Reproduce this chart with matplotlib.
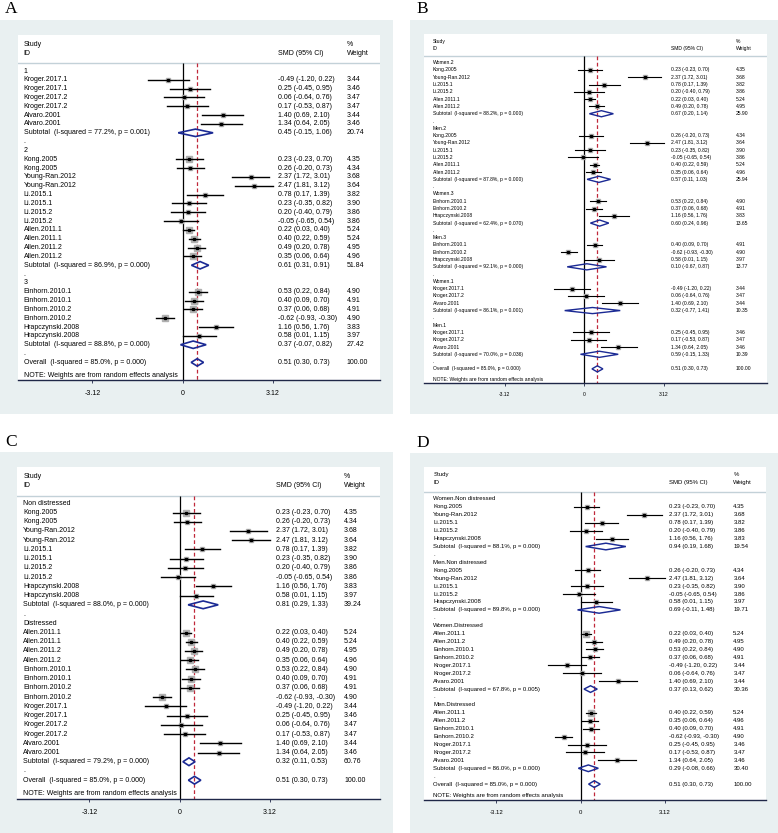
import numpy as np
import matplotlib.pyplot as plt
from matplotlib.patches import Rectangle, Polygon

plt.rcParams['font.family'] = ['Liberation Sans', 'DejaVu Sans']

W, H = 778, 833

# study-level estimates: SMD, 95% CI and random-effects weight (%)
study = ["Kroger.2017.1", "Kroger.2017.1", "Kroger.2017.2", "Kroger.2017.2",
         "Alvaro.2001", "Alvaro.2001", "Kong.2005", "Kong.2005",
         "Young-Ran.2012", "Young-Ran.2012", "Li.2015.1", "Li.2015.1",
         "Li.2015.2", "Li.2015.2", "Allen.2011.1", "Allen.2011.1",
         "Allen.2011.2", "Allen.2011.2", "Einhorn.2010.1", "Einhorn.2010.1",
         "Einhorn.2010.2", "Einhorn.2010.2", "Hrapczynski.2008", "Hrapczynski.2008"]
smd = [-0.49, 0.25, 0.06, 0.17, 1.40, 1.34, 0.23, 0.26, 2.37, 2.47, 0.78, 0.23,
       0.20, -0.05, 0.22, 0.40, 0.49, 0.35, 0.53, 0.40, 0.37, -0.62, 1.16, 0.58]
lo = [-1.20, -0.45, -0.64, -0.53, 0.69, 0.64, -0.23, -0.20, 1.72, 1.81, 0.17, -0.35,
      -0.40, -0.65, 0.03, 0.22, 0.20, 0.06, 0.22, 0.09, 0.06, -0.93, 0.56, 0.01]
hi = [0.22, 0.95, 0.76, 0.87, 2.10, 2.05, 0.70, 0.73, 3.01, 3.12, 1.39, 0.82,
      0.79, 0.54, 0.40, 0.59, 0.78, 0.64, 0.84, 0.70, 0.68, -0.30, 1.76, 1.15]
weight = [3.44, 3.46, 3.47, 3.47, 3.44, 3.46, 4.35, 4.34, 3.68, 3.64, 3.82, 3.90,
          3.86, 3.86, 5.24, 5.24, 4.95, 4.96, 4.90, 4.91, 4.91, 4.90, 3.83, 3.97]

overall_smd, overall_lo, overall_hi = 0.51, 0.30, 0.73
overall_i2, overall_p = 85.0, 0.000

# panel A: by group 1/2/3
a_groups = ["1", "2", "3"]
a_members = [[0, 1, 2, 3, 4, 5],
             [6, 7, 8, 9, 10, 11, 12, 13, 14, 15, 16, 17],
             [18, 19, 20, 21, 22, 23]]
a_sub_smd = [0.45, 0.61, 0.37]
a_sub_lo = [-0.15, 0.31, -0.07]
a_sub_hi = [1.06, 0.91, 0.82]
a_sub_wt = [20.74, 51.84, 27.42]
a_sub_i2 = [77.2, 86.9, 88.8]
a_sub_p = [0.001, 0.000, 0.000]

# panel B: sex by group
b_groups = ["Women.2", "Men.2", "Women.3", "Men.3", "Women.1", "Men.1"]
b_members = [[6, 8, 10, 12, 14, 16], [7, 9, 11, 13, 15, 17],
             [18, 20, 22], [19, 21, 23], [0, 2, 4], [1, 3, 5]]
b_sub_smd = [0.67, 0.57, 0.60, 0.10, 0.32, 0.59]
b_sub_lo = [0.20, 0.11, 0.24, -0.67, -0.77, -0.15]
b_sub_hi = [1.14, 1.03, 0.96, 0.87, 1.41, 1.33]
b_sub_wt = [25.90, 25.94, 13.65, 13.77, 10.35, 10.39]
b_sub_i2 = [88.2, 87.8, 62.4, 92.1, 86.1, 70.0]
b_sub_p = [0.000, 0.000, 0.070, 0.000, 0.001, 0.036]

# panel C: distress status
c_groups = ["Non distressed", "Distressed"]
c_members = [[6, 7, 8, 9, 10, 11, 12, 13, 22, 23],
             [14, 15, 16, 17, 18, 19, 20, 21, 0, 1, 2, 3, 4, 5]]
c_sub_smd = [0.81, 0.32]
c_sub_lo = [0.29, 0.11]
c_sub_hi = [1.33, 0.53]
c_sub_wt = [39.24, 60.76]
c_sub_i2 = [88.0, 79.2]
c_sub_p = [0.000, 0.000]

# panel D: sex by distress status
d_groups = ["Women.Non distressed", "Men.Non distressed",
            "Women.Distressed", "Men.Distressed"]
d_members = [[6, 8, 10, 12, 22], [7, 9, 11, 13, 23],
             [14, 16, 18, 20, 0, 2, 4], [15, 17, 19, 21, 1, 3, 5]]
d_sub_smd = [0.94, 0.69, 0.37, 0.29]
d_sub_lo = [0.19, -0.11, 0.13, -0.08]
d_sub_hi = [1.68, 1.48, 0.62, 0.66]
d_sub_wt = [19.54, 19.71, 30.36, 30.40]
d_sub_i2 = [88.1, 89.8, 67.8, 86.0]
d_sub_p = [0.000, 0.000, 0.005, 0.000]

ticks = [-3.12, 0, 3.12]
tick_labels = ["-3.12", "0", "3.12"]

BG = '#e9f0f1'
SEP = '#c3d1d8'
NAVY = '#1b2a94'
RED = '#c0283a'
BOX = '#b0b0b0'
AXC = '#1f2748'

fig = plt.figure(figsize=(W / 100, H / 100), dpi=100)


def fmt_ci(s, l, h):
    return f"{s:.2f} ({l:.2f}, {h:.2f})"


def forest(g, letter, groups, members, s_smd, s_lo, s_hi, s_wt, s_i2, s_p):
    gx0, gy0, gx1, gy1 = g['bg']
    fig.patches.append(Rectangle((gx0 / W, 1 - gy1 / H), (gx1 - gx0) / W, (gy1 - gy0) / H,
                                 transform=fig.transFigure, facecolor=BG,
                                 edgecolor='none', zorder=-5))
    lx, ly = g['letter']
    fig.text(lx / W, 1 - ly / H, letter, fontfamily='Liberation Serif',
             fontsize=12.5, va='baseline', ha='left')

    wx0, wx1, wtop, wax = g['white']
    ax = fig.add_axes([wx0 / W, 1 - wax / H, (wx1 - wx0) / W, (wax - wtop) / H])
    ax.set_facecolor('white')
    z, u = g['zero'], g['unit']
    ax.set_xlim((wx0 - z) / u, (wx1 - z) / u)
    ax.set_ylim(wax, wtop)
    for sp in ['top', 'right', 'left']:
        ax.spines[sp].set_visible(False)
    ax.spines['bottom'].set_color(AXC)
    ax.spines['bottom'].set_linewidth(1.0)
    ax.set_yticks([])
    ax.set_xticks(ticks)
    ax.set_xticklabels(tick_labels)
    ax.tick_params(axis='x', length=2, width=0.6, color=AXC, pad=g['pad'],
                   labelsize=g['fs'])

    fs = g['fs']
    xl = (g['lab_x'] - z) / u
    xs = (g['smd_x'] - z) / u
    xw = (g['wt_x'] - z) / u

    ax.text(xl, g['study_y'], "Study", fontsize=fs, va='center')
    ax.text(xl, g['id_y'], "ID", fontsize=fs, va='center')
    ax.text(xs, g['id_y'], "SMD (95% CI)", fontsize=fs, va='center')
    ax.text(xw, g['study_y'], "%", fontsize=fs, va='center')
    ax.text(xw, g['id_y'], "Weight", fontsize=fs, va='center')
    ax.axhline(g['hdr_y'], color=SEP, lw=1.0)

    ax.vlines(0, g['hdr_y'], wax, color='black', lw=0.9, zorder=2)
    ax.vlines(overall_smd, g['hdr_y'], wax, color=RED, lw=0.9,
              linestyles=(0, (3, 2)), zorder=2)

    row0, step, k, lw = g['row0'], g['sp'], g['k'], g['lw']
    dh = 0.42 * step

    def diamond(y, s, l, h):
        ax.add_patch(Polygon([(l, y), (s, y - dh), (h, y), (s, y + dh)], closed=True,
                             fill=False, edgecolor=NAVY, lw=lw + 0.2, zorder=4))

    r = 0
    for gi, name in enumerate(groups):
        if gi > 0:
            ax.text(xl, row0 + r * step, ".", fontsize=fs, va='center')
            r += 1
        ax.text(xl, row0 + r * step, name, fontsize=fs, va='center')
        r += 1
        for i in members[gi]:
            y = row0 + r * step
            ax.plot(smd[i], y, marker='s', ms=k * np.sqrt(weight[i]) * 0.72,
                    mfc=BOX, mec=BOX, zorder=3)
            ax.plot([lo[i], hi[i]], [y, y], color='black', lw=lw, zorder=4)
            ax.plot(smd[i], y, marker='s', ms=1.4, color='black', zorder=5)
            ax.text(xl, y, study[i], fontsize=fs, va='center')
            ax.text(xs, y, fmt_ci(smd[i], lo[i], hi[i]), fontsize=fs, va='center')
            ax.text(xw, y, f"{weight[i]:.2f}", fontsize=fs, va='center')
            r += 1
        y = row0 + r * step
        diamond(y, s_smd[gi], s_lo[gi], s_hi[gi])
        ax.text(xl, y, f"Subtotal  (I-squared = {s_i2[gi]:.1f}%, p = {s_p[gi]:.3f})",
                fontsize=fs, va='center')
        ax.text(xs, y, fmt_ci(s_smd[gi], s_lo[gi], s_hi[gi]), fontsize=fs, va='center')
        ax.text(xw, y, f"{s_wt[gi]:.2f}", fontsize=fs, va='center')
        r += 1
    ax.text(xl, row0 + r * step, ".", fontsize=fs, va='center')
    r += 1
    y = row0 + r * step
    diamond(y, overall_smd, overall_lo, overall_hi)
    ax.text(xl, y, f"Overall  (I-squared = {overall_i2:.1f}%, p = {overall_p:.3f})",
            fontsize=fs, va='center')
    ax.text(xs, y, fmt_ci(overall_smd, overall_lo, overall_hi), fontsize=fs, va='center')
    ax.text(xw, y, "100.00", fontsize=fs, va='center')
    ax.text(xl, y + 1.45 * step, "NOTE: Weights are from random effects analysis",
            fontsize=fs, va='center')


geo_a = dict(bg=(0, 20, 393, 414), white=(18, 380, 35, 380), zero=182.5, unit=28.85,
             row0=71, sp=8.83, study_y=44, id_y=53.3, hdr_y=63.3, lab_x=23.5,
             smd_x=278.3, wt_x=346.7, fs=5.0, letter=(5, 13.3), k=2.4, lw=1.0, pad=5.5)
geo_b = dict(bg=(410, 20, 778, 414), white=(424, 767, 34, 383.3), zero=584.3, unit=25.5,
             row0=62.7, sp=7.29, study_y=41.5, id_y=48.5, hdr_y=56.3, lab_x=432.7,
             smd_x=671, wt_x=736, fs=3.6, letter=(416.7, 13.3), k=2.0, lw=0.8, pad=4.5)
geo_c = dict(bg=(0, 451.7, 393, 833), white=(17.3, 380, 466.7, 799), zero=179.7, unit=28.96,
             row0=503.3, sp=9.23, study_y=476, id_y=485, hdr_y=495.7, lab_x=23.3,
             smd_x=276, wt_x=344, fs=5.0, letter=(5, 446), k=2.4, lw=1.0, pad=5.5)
geo_d = dict(bg=(410, 452.7, 778, 833), white=(424, 766, 466.7, 800), zero=580.5, unit=27.0,
             row0=499, sp=7.92, study_y=474.7, id_y=482.7, hdr_y=492.3, lab_x=433.3,
             smd_x=669.3, wt_x=733.3, fs=4.3, letter=(416, 446.7), k=2.2, lw=0.85, pad=5)

forest(geo_a, "A", a_groups, a_members, a_sub_smd, a_sub_lo, a_sub_hi, a_sub_wt, a_sub_i2, a_sub_p)
forest(geo_b, "B", b_groups, b_members, b_sub_smd, b_sub_lo, b_sub_hi, b_sub_wt, b_sub_i2, b_sub_p)
forest(geo_c, "C", c_groups, c_members, c_sub_smd, c_sub_lo, c_sub_hi, c_sub_wt, c_sub_i2, c_sub_p)
forest(geo_d, "D", d_groups, d_members, d_sub_smd, d_sub_lo, d_sub_hi, d_sub_wt, d_sub_i2, d_sub_p)

fig.savefig('out.png', dpi=100)
